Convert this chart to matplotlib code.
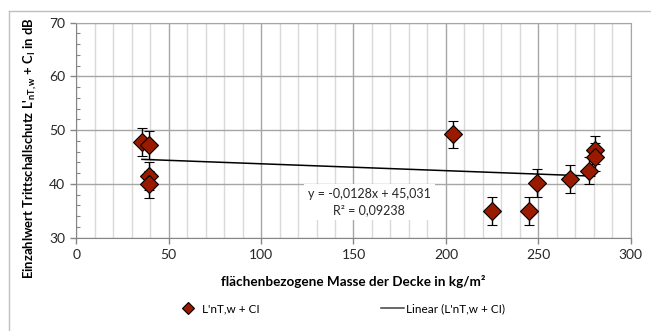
import matplotlib
matplotlib.use('Agg')
import numpy as np
import matplotlib.pyplot as plt
from matplotlib.lines import Line2D
from matplotlib.ticker import MultipleLocator

plt.rcParams['font.family'] = ['Lato', 'DejaVu Sans']
plt.rcParams['mathtext.fontset'] = 'custom'
plt.rcParams['mathtext.rm'] = 'Lato'
plt.rcParams['mathtext.bf'] = 'Lato:bold'
plt.rcParams['mathtext.it'] = 'Lato:italic'

# Messwerte: flächenbezogene Masse (kg/m²) und L'nT,w + CI (dB)
masse = [35.5, 39.4, 39.4, 39.4, 204.1, 225.1, 244.9, 249.4, 266.9, 277.7, 280.5, 280.5]
lnt = [47.8, 47.2, 41.4, 39.9, 49.2, 35.0, 35.0, 40.2, 41.0, 42.5, 46.4, 45.0]
fehler = [2.6, 2.6, 2.6, 2.6, 2.6, 2.6, 2.6, 2.6, 2.6, 2.6, 2.6, 2.6]

# Lineare Trendlinie laut Gleichung
steigung = -0.0128
achsenabschnitt = 45.031
r2 = 0.09238

fig = plt.figure(figsize=(6.51, 3.31), dpi=100)
ax = fig.add_axes([0.1172, 0.2819, 0.8516, 0.6495])

ax.set_xlim(0, 300)
ax.set_ylim(30, 70)
ax.xaxis.set_major_locator(MultipleLocator(50))
ax.xaxis.set_minor_locator(MultipleLocator(10))
ax.yaxis.set_major_locator(MultipleLocator(10))
ax.yaxis.set_minor_locator(MultipleLocator(2))

ax.grid(True, which='major', axis='both', color='#a6a6a6', linewidth=1.0, zorder=0)
ax.grid(True, which='minor', axis='x', color='#d9d9d9', linewidth=1.0, zorder=0)
ax.set_axisbelow(True)

for side in ['top', 'right']:
    ax.spines[side].set_color('#a6a6a6')
for side in ['left', 'bottom']:
    ax.spines[side].set_color('#868686')

ax.tick_params(which='major', direction='out', length=4, width=1, color='#868686',
               labelsize=10, labelcolor='#262626', pad=4)
ax.tick_params(which='minor', direction='in', length=3, width=0.8, color='#868686')
ax.tick_params(axis='x', which='minor', length=0)

# Trendlinie
xt = np.array([min(masse), max(masse)])
ax.plot(xt, steigung * xt + achsenabschnitt, color='black', linewidth=1.1, zorder=2)

# Messpunkte mit Fehlerbalken
ax.errorbar(masse, lnt, yerr=fehler, fmt='D', color='black', ecolor='black',
            elinewidth=1, capsize=3.3, capthick=1, markersize=9,
            markerfacecolor='#9a1a00', markeredgecolor='black', markeredgewidth=0.8,
            zorder=3)

ax.text(158.5, 36.65,
        f'y = {steigung:.4f}x + {achsenabschnitt:.3f}'.replace('.', ',')
        + '\n' + f'R² = {r2:.5f}'.replace('.', ','),
        ha='center', va='center', fontsize=9, color='#262626', linespacing=1.45,
        bbox=dict(facecolor='white', edgecolor='none', pad=3), zorder=4)

ax.set_xlabel('flächenbezogene Masse der Decke in kg/m²', fontsize=9.7,
              fontweight='bold', labelpad=10)
ax.set_ylabel("Einzahlwert Trittschallschutz L'$_{\\mathbf{nT,w}}$ + C$_{\\mathbf{I}}$ in dB",
              fontsize=9.4, fontweight='bold')
ax.yaxis.set_label_coords(-0.068, 0.415)

handles = [
    Line2D([], [], linestyle='none', marker='D', markersize=6,
           markerfacecolor='#9a1a00', markeredgecolor='black', markeredgewidth=0.8),
    Line2D([], [], color='#404040', linewidth=1.1),
]
fig.legend(handles, ["L'nT,w + CI", "Linear (L'nT,w + CI)"],
           loc='center', bbox_to_anchor=(341 / 651, 1 - 309 / 331), ncol=2,
           frameon=False, fontsize=8.5, handlelength=2.0, handletextpad=0.2,
           columnspacing=10.2)

# Rahmen des Diagrammbereichs
fig.add_artist(Line2D([9.3 / 651, 1.0], [1 - 10.7 / 331] * 2, color='#bfbfbf', linewidth=1))
fig.add_artist(Line2D([9.3 / 651] * 2, [1 - 10.7 / 331, 0.0], color='#bfbfbf', linewidth=1))

fig.savefig('out.png', dpi=100)
